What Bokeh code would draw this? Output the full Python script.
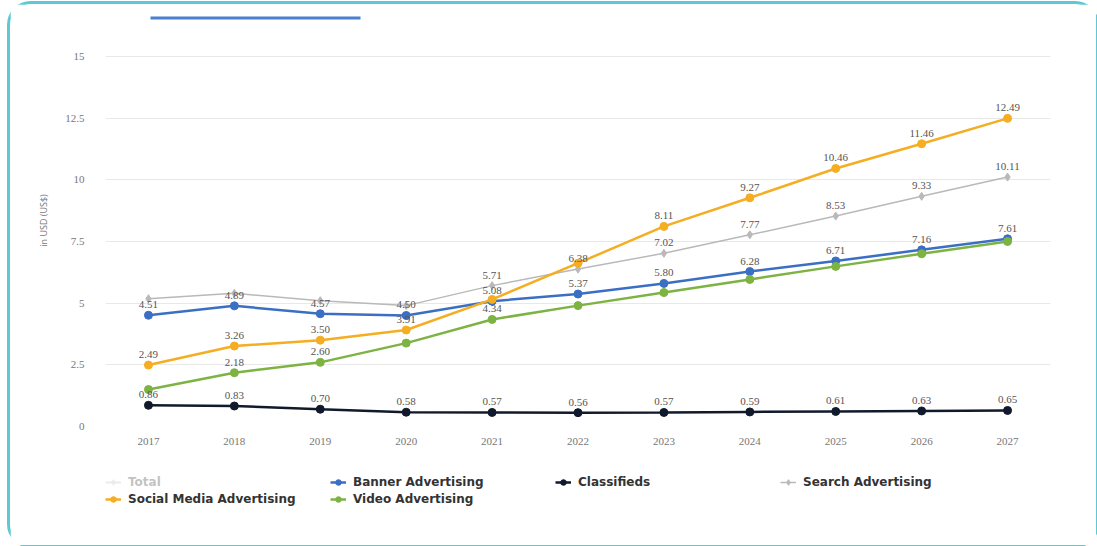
from bokeh.plotting import figure
from bokeh.layouts import column
from bokeh.models import Range1d, FixedTicker, Legend, LegendItem, BoxAnnotation, ColumnDataSource
from bokeh.core.properties import value
from bokeh.embed import file_html
from bokeh.resources import INLINE

# ---------------- data ----------------
years = [2017, 2018, 2019, 2020, 2021, 2022, 2023, 2024, 2025, 2026, 2027]
banner = [4.51, 4.89, 4.57, 4.50, 5.08, 5.37, 5.80, 6.28, 6.71, 7.16, 7.61]
classifieds = [0.86, 0.83, 0.70, 0.58, 0.57, 0.56, 0.57, 0.59, 0.61, 0.63, 0.65]
search = [5.18, 5.40, 5.10, 4.90, 5.71, 6.38, 7.02, 7.77, 8.53, 9.33, 10.11]
social = [2.49, 3.26, 3.50, 3.91, 5.15, 6.62, 8.11, 9.27, 10.46, 11.46, 12.49]
video = [1.50, 2.18, 2.60, 3.38, 4.34, 4.90, 5.43, 5.96, 6.49, 7.00, 7.50]
y_ticks = [0, 2.5, 5, 7.5, 10, 12.5, 15]
y_tick_labels = ["0", "2.5", "5", "7.5", "10", "12.5", "15"]
y_title = "in USD (US$)"

# which data labels are visible (overlapping labels hidden, as in the reference)
show_banner = [1, 1, 1, 1, 1, 1, 1, 1, 1, 1, 1]
show_classifieds = [1, 1, 1, 1, 1, 1, 1, 1, 1, 1, 1]
show_search = [0, 0, 0, 0, 1, 1, 1, 1, 1, 1, 1]
show_social = [1, 1, 1, 1, 0, 0, 1, 1, 1, 1, 1]
show_video = [0, 1, 1, 0, 1, 0, 0, 0, 0, 0, 0]

C_TOTAL = "#bdbdbd"
C_BANNER = "#3b6fc4"
C_CLASS = "#111a2c"
C_SEARCH = "#b9b9b9"
C_SOCIAL = "#f5ad22"
C_VIDEO = "#7cb342"

W, H1, H2 = 1086, 455, 86
p = figure(width=W, height=H1, output_backend="svg", toolbar_location=None,
           x_range=Range1d(2016.5, 2027.5), y_range=Range1d(0, 16.70),
           min_border_left=95, min_border_right=46, min_border_top=10, min_border_bottom=33)
p.outline_line_color = None
p.background_fill_color = "white"
p.border_fill_color = "white"

# axes
p.yaxis.ticker = FixedTicker(ticks=y_ticks)
p.yaxis.major_label_overrides = {t: l for t, l in zip(y_ticks, y_tick_labels)}
p.yaxis.axis_line_color = None
p.yaxis.major_tick_line_color = None
p.yaxis.minor_tick_line_color = None
p.yaxis.major_label_text_font = "Liberation Serif"
p.yaxis.major_label_text_font_size = "11px"
p.yaxis.major_label_text_color = "#777777"
p.yaxis.major_label_standoff = 15
p.yaxis.axis_label = y_title
p.yaxis.axis_label_text_font = "Open Sans"
p.yaxis.axis_label_text_font_size = "9px"
p.yaxis.axis_label_text_font_style = "normal"
p.yaxis.axis_label_text_color = "#777777"
p.yaxis.axis_label_standoff = 12

p.xaxis.ticker = FixedTicker(ticks=years)
p.xaxis.major_label_overrides = {y: str(y) for y in years}
p.xaxis.axis_line_color = None
p.xaxis.major_tick_line_color = None
p.xaxis.minor_tick_line_color = None
p.xaxis.major_label_text_font = "Liberation Serif"
p.xaxis.major_label_text_font_size = "11px"
p.xaxis.major_label_text_color = "#777777"
p.xaxis.major_label_standoff = 5

p.xgrid.grid_line_color = None
p.ygrid.grid_line_color = "#e8e8e8"
p.ygrid.grid_line_width = 1

# top decorative tab line (screen units relative to the plot frame, y up)
p.add_layout(BoxAnnotation(left=45, right=255, top=410, bottom=407,
                           left_units="screen", right_units="screen",
                           top_units="screen", bottom_units="screen",
                           fill_color="#4a7fd0", fill_alpha=1.0, line_color=None,
                           level="overlay"))

series = [
    ("Banner Advertising", banner, C_BANNER, 2.5, "circle", 8, show_banner),
    ("Classifieds", classifieds, C_CLASS, 2.5, "circle", 8, show_classifieds),
    ("Search Advertising", search, C_SEARCH, 1.5, "diamond", 8, show_search),
    ("Social Media Advertising", social, C_SOCIAL, 2.5, "circle", 8, show_social),
    ("Video Advertising", video, C_VIDEO, 2.5, "circle", 8, show_video),
]

for name, vals, col, lw, mk, sz, show in series:
    src = ColumnDataSource(dict(x=years, y=vals))
    p.line("x", "y", source=src, line_color=col, line_width=lw)
    p.scatter("x", "y", source=src, marker=mk, size=sz, color=col)

for name, vals, col, lw, mk, sz, show in series:
    lx = [x for x, s in zip(years, show) if s]
    ly = [v for v, s in zip(vals, show) if s]
    lt = ["%.2f" % v for v, s in zip(vals, show) if s]
    p.text(x=lx, y=ly, text=lt, x_offset=0, y_offset=-7,
           text_align="center", text_baseline="bottom",
           text_font=value("Liberation Serif"), text_font_size="11px",
           text_color="#555555")

# ---------------- legend strip ----------------
leg = figure(width=W, height=H2, output_backend="svg", toolbar_location=None,
             x_axis_type=None, y_axis_type=None, x_range=Range1d(0, 1), y_range=Range1d(0, 1),
             min_border_left=0, min_border_right=0, min_border_top=0, min_border_bottom=0)
leg.outline_line_color = None
leg.xgrid.visible = False
leg.ygrid.visible = False
leg.border_fill_color = "white"

legend_styles = [("Total", C_TOTAL, 2, "diamond", 9, False)] + \
    [(s[0], s[2], s[3], s[4], s[5], True) for s in series]
leg_r = {}
for name, col, lw, mk, sz, vis in legend_styles:
    dummy = ColumnDataSource(dict(x=[0.5], y=[float("nan")]))
    rl = leg.line("x", "y", source=dummy, line_color=col, line_width=lw, visible=vis)
    rm = leg.scatter("x", "y", source=dummy, marker=mk, size=sz - 1, color=col, visible=vis)
    leg_r[name] = [rl, rm]

rows = [(["Total", "Banner Advertising", "Classifieds", "Search Advertising"], (0, 56)),
        (["Social Media Advertising", "Video Advertising"], (0, 39))]
for row, loc in rows:
    lg = Legend(items=[LegendItem(label=n, renderers=leg_r[n]) for n in row],
                location=loc, orientation="horizontal", click_policy="hide",
                label_text_font="DejaVu Sans", label_text_font_size="12px",
                label_text_font_style="bold", label_text_color="#333333",
                glyph_width=16, glyph_height=14, label_height=14, label_standoff=7,
                label_width=199, padding=0, margin=0, spacing=3,
                inactive_fill_color="white", inactive_fill_alpha=0.7,
                background_fill_alpha=0, border_line_color=None)
    leg.add_layout(lg, "center")

layout = column(p, leg, spacing=0)
layout.styles = {"border": "3px solid #5ec8d3", "border-radius": "24px", "box-sizing": "border-box",
                 "margin-left": "7px", "margin-top": "1px", "background-color": "white"}

open("out.html", "w").write(file_html(layout, INLINE))
